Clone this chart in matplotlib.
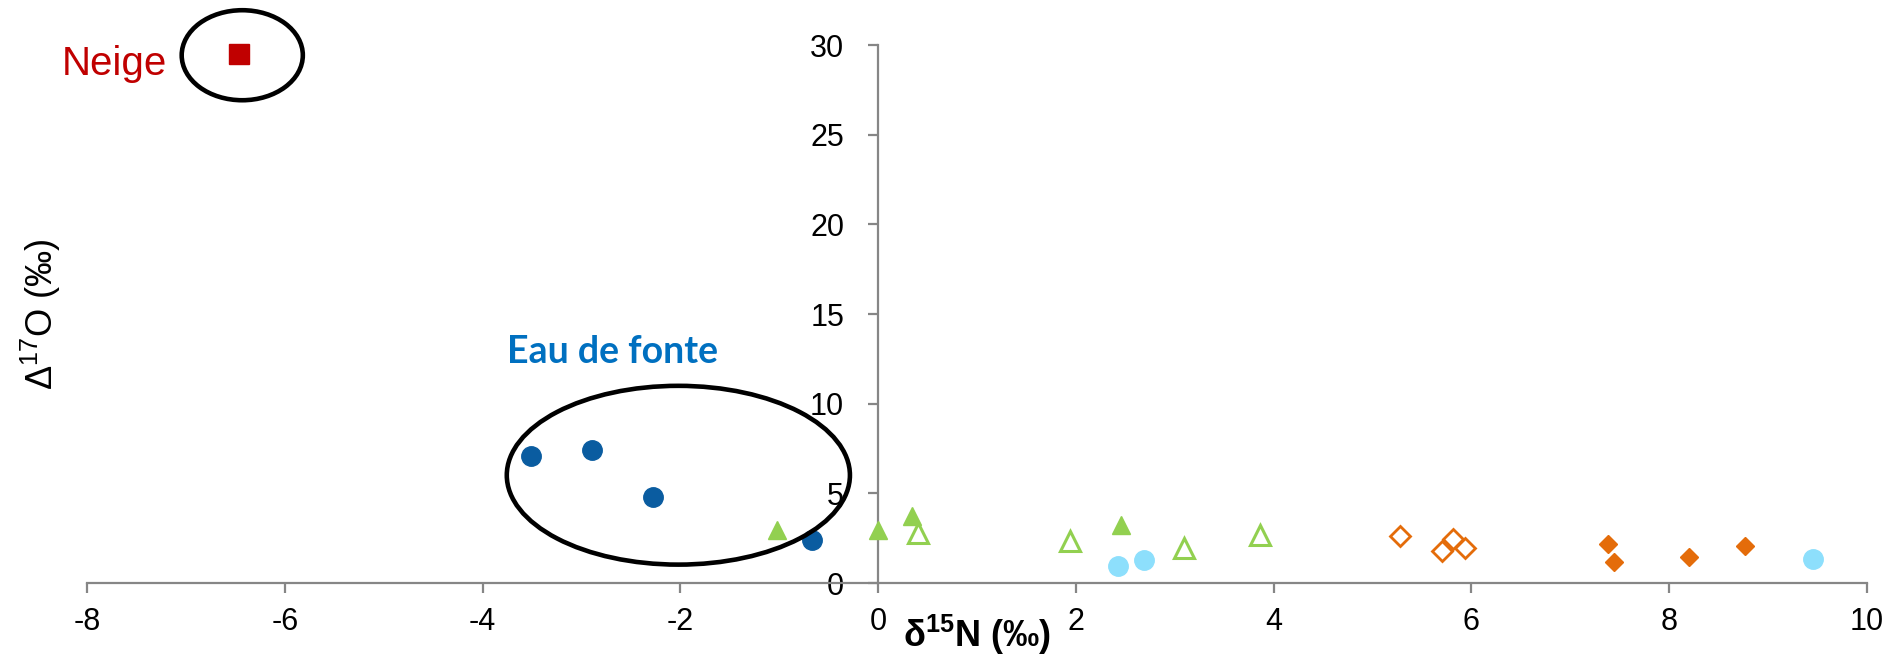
import matplotlib
matplotlib.use("Agg")
import matplotlib.pyplot as plt
from matplotlib.patches import Ellipse

plt.rcParams['font.family'] = ['Liberation Sans', 'DejaVu Sans']
plt.rcParams['mathtext.fontset'] = 'custom'
plt.rcParams['mathtext.rm'] = 'Liberation Sans'
plt.rcParams['mathtext.it'] = 'Liberation Sans:italic'
plt.rcParams['mathtext.bf'] = 'Liberation Sans:bold'

# --- data: d15N (permil) vs D17O (permil) ---
neige_x = [-6.46]
neige_y = [29.5]

fonte_x = [-3.51, -2.89, -2.28, -0.67]
fonte_y = [7.08, 7.42, 4.78, 2.40]

green_full_x = [-1.02, 0.0, 0.34, 2.46]
green_full_y = [2.96, 2.93, 3.74, 3.23]

green_open_x = [0.40, 1.94, 3.09, 3.86]
green_open_y = [2.77, 2.36, 1.93, 2.68]

cyan_x = [2.43, 2.69, 9.45]
cyan_y = [0.95, 1.28, 1.34]

orange_open_x = [5.28, 5.81, 5.70, 5.93]
orange_open_y = [2.62, 2.44, 1.80, 1.93]

orange_full_x = [7.38, 7.44, 8.20, 8.77]
orange_full_y = [2.16, 1.15, 1.43, 2.08]

x_ticks = [-8, -6, -4, -2, 0, 2, 4, 6, 8, 10]
y_ticks = [0, 5, 10, 15, 20, 25, 30]

AXIS_GREY = "#868686"

fig = plt.figure(figsize=(19.03, 6.57), dpi=100)
ax = fig.add_axes([0.04572, 0.11263, 0.93536, 0.81887])
ax.set_xlim(-8, 10)
ax.set_ylim(0, 30)

# axes crossing at the origin
ax.spines['left'].set_position(('data', 0))
ax.spines['bottom'].set_position(('data', 0))
for s in ('top', 'right'):
    ax.spines[s].set_visible(False)
for s in ('left', 'bottom'):
    ax.spines[s].set_color(AXIS_GREY)
    ax.spines[s].set_linewidth(1.6)

ax.set_xticks(x_ticks)
ax.set_yticks(y_ticks)
ax.set_xticklabels([str(v) for v in x_ticks])
ax.set_yticklabels([str(v) for v in y_ticks])
ax.tick_params(axis='x', direction='out', length=7.5, width=1.6, color=AXIS_GREY,
               labelsize=22, pad=10)
ax.tick_params(axis='y', direction='out', length=7.5, width=1.6, color=AXIS_GREY,
               labelsize=22, pad=17)

# series
ax.plot(neige_x, neige_y, ls='none', marker='s', ms=14, color='#C00000', clip_on=False, zorder=3)
ax.plot(fonte_x, fonte_y, ls='none', marker='o', ms=14, color='#0A5CA0', clip_on=False, zorder=3)
ax.plot(green_full_x, green_full_y, ls='none', marker='^', ms=13.5, color='#92D050', clip_on=False, zorder=3)
ax.plot(green_open_x, green_open_y, ls='none', marker='^', ms=14, mfc='white', mec='#92D050',
        mew=2.2, clip_on=False, zorder=3)
ax.plot(cyan_x, cyan_y, ls='none', marker='o', ms=14, color='#8DDFFC', clip_on=False, zorder=3)
ax.plot(orange_open_x, orange_open_y, ls='none', marker='D', ms=10.5, mfc='white', mec='#E46C0A',
        mew=2.0, clip_on=False, zorder=3)
ax.plot(orange_full_x, orange_full_y, ls='none', marker='D', ms=9.5, color='#E46C0A',
        clip_on=False, zorder=3)

# grouping ellipses
ax.add_patch(Ellipse((-6.43, 29.43), 1.225, 5.02, fill=False, ec='black', lw=3.3,
                     clip_on=False, zorder=4))
ax.add_patch(Ellipse((-2.02, 6.01), 3.47, 9.97, fill=False, ec='black', lw=3.3,
                     clip_on=False, zorder=4))

ax.text(-8.26, 28.33, 'Neige', color='#C00000', fontsize=29, ha='left', va='baseline',
        clip_on=False)
ax.text(-3.75, 12.27, 'Eau de fonte', color='#0070C0', fontsize=27, fontweight='bold',
        family=['Lato', 'DejaVu Sans'], ha='left', va='baseline', clip_on=False)

# axis titles
ax.set_xlabel(r'$\mathbf{\delta^{15}N\ (‰)}$', fontsize=26, va='baseline')
ax.xaxis.set_label_coords(0.5, -0.119)
ax.set_ylabel(r'$\Delta^{17}$O (‰)', fontsize=26, va='center')
ax.yaxis.set_label_coords(-0.0260, 0.5)

fig.savefig('out.png', dpi=100)
